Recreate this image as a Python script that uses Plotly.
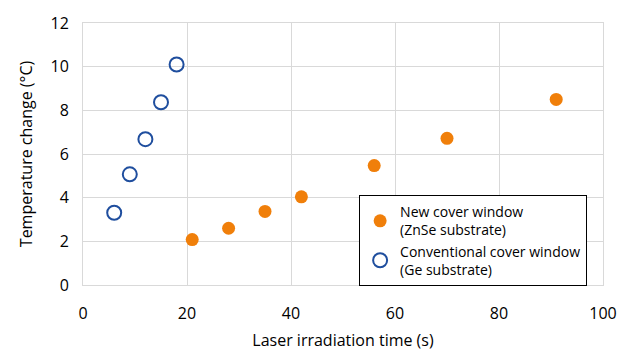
import plotly.graph_objects as go

new_x = [21, 28, 35, 42, 56, 70, 91]
new_y = [2.08, 2.6, 3.37, 4.04, 5.47, 6.72, 8.5]
conv_x = [6, 9, 12, 15, 18]
conv_y = [3.31, 5.07, 6.68, 8.37, 10.1]

x_ticks = [0, 20, 40, 60, 80, 100]
y_ticks = [0, 2, 4, 6, 8, 10, 12]

FONT = "Open Sans, Noto Sans, sans-serif"

fig = go.Figure()
fig.add_trace(go.Scatter(
    x=new_x, y=new_y, mode="markers",
    name="New cover window<br>(ZnSe substrate)",
    marker=dict(symbol="circle", size=13, color="#F07F0A", line=dict(width=0)),
))
fig.add_trace(go.Scatter(
    x=conv_x, y=conv_y, mode="markers",
    name="Conventional cover window<br>(Ge substrate)",
    marker=dict(symbol="circle-open", size=14, color="#1F4E9E", line=dict(width=2, color="#1F4E9E")),
))

fig.update_layout(
    width=634, height=358,
    margin=dict(l=83, r=31, t=19, b=71),
    paper_bgcolor="white", plot_bgcolor="white",
    font=dict(family=FONT, color="#000000"),
    showlegend=True,
    legend=dict(
        x=0.531, y=0.343, xanchor="left", yanchor="top",
        bgcolor="white", bordercolor="#000000", borderwidth=1,
        font=dict(size=14, family=FONT),
        tracegroupgap=0,
        itemwidth=30,
    ),
    xaxis=dict(
        range=[0, 100], tickvals=x_ticks, ticktext=[str(v) for v in x_ticks],
        showgrid=True, gridcolor="#D9D9D9", gridwidth=1,
        zeroline=False, showline=True, linecolor="#D9D9D9", mirror=True,
        ticks="", tickfont=dict(size=16), ticklabelstandoff=14,
        title=dict(text="Laser irradiation time (s)", font=dict(size=16), standoff=11),
    ),
    yaxis=dict(
        range=[0, 12], tickvals=y_ticks, ticktext=[str(v) for v in y_ticks],
        showgrid=True, gridcolor="#D9D9D9", gridwidth=1,
        zeroline=False, showline=True, linecolor="#D9D9D9", mirror=True,
        ticks="", tickfont=dict(size=16), ticklabelstandoff=10,
        title=dict(text="Temperature change (°C)", font=dict(size=16), standoff=13),
    ),
)

fig.write_html("out.html")
